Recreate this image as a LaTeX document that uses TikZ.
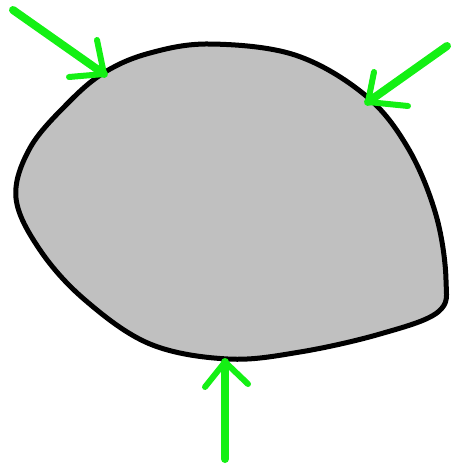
\documentclass[tikz,border=0pt]{standalone}
\definecolor{blobgray}{RGB}{192,192,192}
\definecolor{arrowgreen}{RGB}{20,240,20}
\tikzset{
  blob/.style={draw=black, line width=5pt, fill=blobgray, line join=round},
  greenarrow/.style={draw=arrowgreen, line width=8pt, line cap=round, line join=round},
  headline/.style={draw=arrowgreen, line width=6pt, line cap=round}
}
\begin{document}
\begin{tikzpicture}[x=1pt,y=-1pt]
\useasboundingbox (0,0) rectangle (451,469);
\draw[blob] plot[smooth cycle, tension=0.6] coordinates {
  (210,44) (295,55) (365,95) (408,148) (436,215) (446,280) (438,312)
  (380,334) (300,352) (228,359) (150,344) (85,300) (40,250) (16,198)
  (30,148) (68,103) (105,72) (150,53)};
% top-left arrow
\coordinate (tl0) at (13,10);
\coordinate (tl1) at (104,74);
\draw[greenarrow] (tl0) -- (tl1);
\draw[headline] (97,40) -- (tl1);
\draw[headline] (69,77) -- (tl1);
% top-right arrow
\coordinate (tr0) at (447,46);
\coordinate (tr1) at (368,102);
\draw[greenarrow] (tr0) -- (tr1);
\draw[headline] (374,72) -- (tr1);
\draw[headline] (408,106) -- (tr1);
% bottom arrow
\coordinate (b0) at (225,459);
\coordinate (b1) at (225,362);
\draw[greenarrow] (b0) -- (b1);
\draw[headline] (205,387) -- (b1);
\draw[headline] (248,384) -- (b1);
\end{tikzpicture}
\end{document}
